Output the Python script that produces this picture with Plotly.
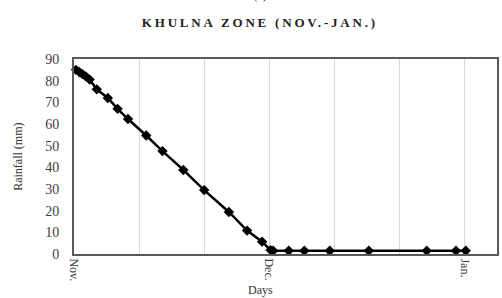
import plotly.graph_objects as go

# Data
days = [0.3, 0.8, 1.3, 1.8, 2.4, 3.5, 5.2, 6.7, 8.3, 11.1, 13.6, 16.8, 20.0, 23.8, 26.6, 28.9, 30.2, 30.6,
        33.0, 35.4, 39.3, 45.3, 54.2, 58.7, 60.2]
rainfall = [85, 84, 83, 82, 80.5, 76, 72, 67, 62.3, 54.7, 47.5, 38.8, 29.5, 19.4, 10.8, 5.7, 1.8, 1.5,
            1.5, 1.5, 1.5, 1.5, 1.5, 1.5, 1.5]
tick_vals = [0, 30, 60]
tick_text = ["Nov.", "Dec.", "Jan."]

SERIF = "Liberation Serif, Times New Roman, serif"

fig = go.Figure()
fig.add_trace(go.Scatter(
    x=days, y=rainfall, mode="lines+markers",
    line=dict(color="black", width=2.5),
    marker=dict(symbol="diamond", size=8, color="black"),
    showlegend=False, cliponaxis=False,
))

fig.update_layout(
    width=502, height=298,
    margin=dict(l=74, r=3, t=59, b=44),
    paper_bgcolor="white", plot_bgcolor="white",
    font=dict(family=SERIF, color="#404040"),
    xaxis=dict(
        range=[0, 65], tickvals=tick_vals, ticktext=tick_text, tickangle=90,
        showgrid=True, gridcolor="#d9d9d9", gridwidth=1,
        minor=dict(dtick=10, tick0=0, showgrid=True, gridcolor="#d9d9d9", gridwidth=1, ticks=""),
        showline=True, linecolor="#595959", linewidth=2, mirror=True,
        ticks="", zeroline=False, ticklabelstandoff=0,
        tickfont=dict(size=12, color="#404040", family=SERIF),
    ),
    yaxis=dict(
        range=[0, 90], dtick=10, showgrid=False,
        showline=True, linecolor="#595959", linewidth=2, mirror=True,
        ticks="", zeroline=False, ticklabelstandoff=10,
        tickfont=dict(size=14, color="#404040", family=SERIF),
    ),
    annotations=[
        dict(text="<b>KHULNA ZONE (NOV.-JAN.)</b>", xref="paper", yref="paper",
             x=0.44, y=1.185, xanchor="center", yanchor="middle", showarrow=False,
             font=dict(size=13, color="#222222", family=SERIF)),
        dict(text="(c)", xref="paper", yref="paper",
             x=0.44, y=1.282, xanchor="center", yanchor="bottom", showarrow=False,
             font=dict(size=13, color="#222222", family=SERIF)),
        dict(text="Days", xref="paper", yref="paper",
             x=0.44, y=-0.185, xanchor="center", yanchor="middle", showarrow=False,
             font=dict(size=12, color="#333333", family=SERIF)),
        dict(text="Rainfall (mm)", xref="paper", yref="paper", textangle=-90,
             x=-0.134, y=0.5, xanchor="center", yanchor="middle", showarrow=False,
             font=dict(size=12, color="#333333", family=SERIF)),
    ],
)

post = """
document.body.style.margin = '0';
document.querySelectorAll('.annotation-text').forEach(function (t) {
  if (t.textContent.indexOf('KHULNA') === 0) { t.style.letterSpacing = '2.8px'; }
});
"""

fig.write_html("out.html", post_script=post, config={"displayModeBar": False})
